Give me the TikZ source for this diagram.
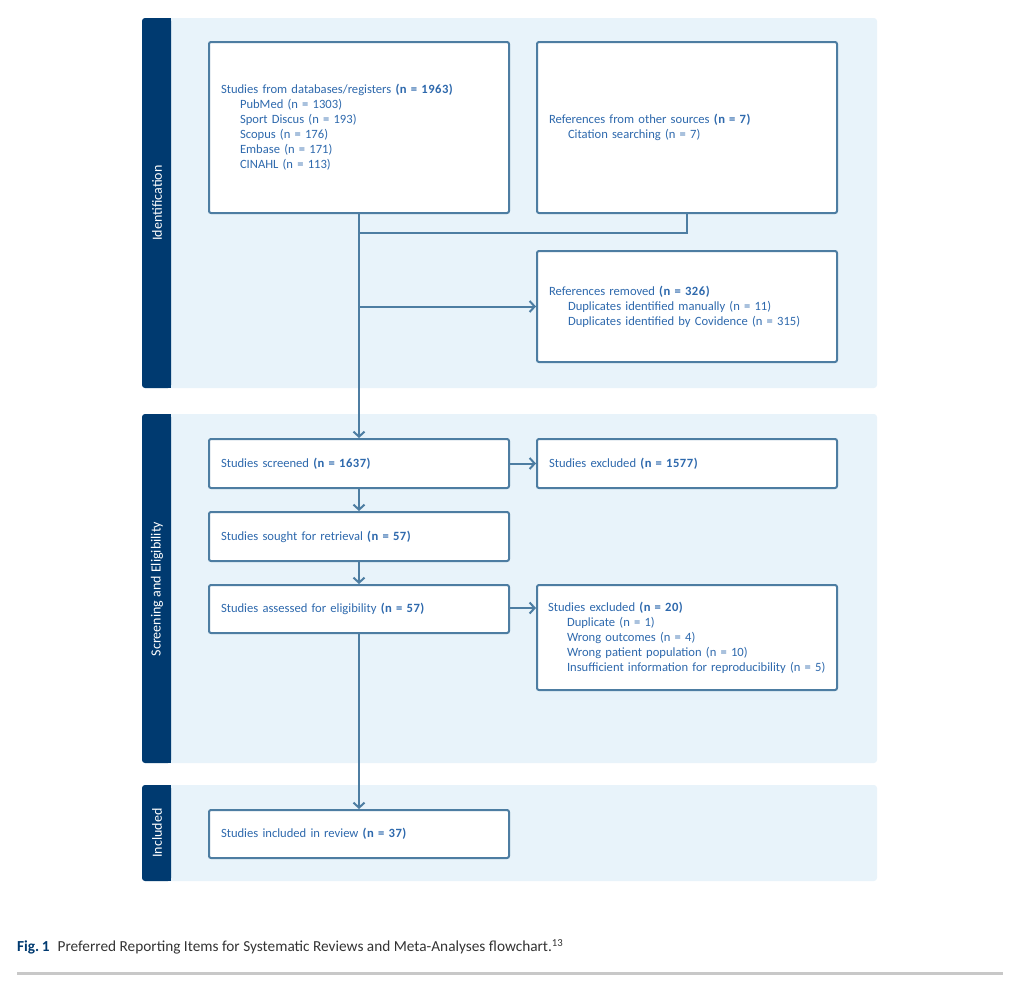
\documentclass[tikz,border=0pt]{standalone}
\usepackage{fontspec}
\setmainfont{Carlito}
\usetikzlibrary{arrows.meta,calc}
\definecolor{bandbg}{HTML}{E8F3FA}
\definecolor{bardark}{HTML}{003A70}
\definecolor{boxline}{HTML}{4D7DA2}
\definecolor{txtblue}{HTML}{2E69AD}
\definecolor{capgray}{HTML}{333333}
\definecolor{rulegray}{HTML}{C8C8C8}
\newcommand{\bn}[1]{\textbf{\addfontfeature{LetterSpace=4}#1}}
\newcommand{\ind}{\hspace*{19pt}}
\begin{document}
\begin{tikzpicture}[x=1pt,y=-1pt,
  fbox/.style={draw=boxline, line width=2pt, fill=white, rounded corners=2pt,
    anchor=north west, inner xsep=12pt, inner ysep=0pt, align=left,
    text=txtblue, font=\fontsize{12.6}{15}\selectfont},
  arr/.style={draw=boxline, line width=2pt, -{Straight Barb[length=5pt,width=11pt,line width=2pt]}},
  ln/.style={draw=boxline, line width=2pt},
  sidelabel/.style={text=white, rotate=90, font=\fontsize{14}{16}\selectfont}]
\useasboundingbox (0,0) rectangle (1020,991);
% bands
\foreach \ya/\yb in {18/388, 414/763, 785/881}{
  \fill[bandbg, rounded corners=3pt] (142,\ya) rectangle (877,\yb);
  \fill[bardark, rounded corners=3pt] (142,\ya) rectangle (171,\yb);
  \fill[bardark] (160,\ya) rectangle (171,\yb);
}
\node[sidelabel] (lid) at (157,203) {Identification};
\node[sidelabel] (lsc) at (157,589) {Screening and Eligibility};
\node[sidelabel] (lin) at (157,833) {Included};
% boxes
\node[fbox, minimum width=300pt, minimum height=171pt, text width=276pt] (db) at (208,41)
 {Studies from databases/registers \bn{(n = 1963)}\\
  \ind PubMed (n = 1303)\\
  \ind Sport Discus (n = 193)\\
  \ind Scopus (n = 176)\\
  \ind Embase (n = 171)\\
  \ind CINAHL (n = 113)};
\node[fbox, minimum width=300pt, minimum height=171pt, text width=276pt] (oth) at (536,41)
 {References from other sources \bn{(n = 7)}\\
  \ind Citation searching (n = 7)};
\node[fbox, minimum width=300pt, minimum height=111pt, text width=276pt] (rem) at (536,250)
 {References removed \bn{(n = 326)}\\
  \ind Duplicates identified manually (n = 11)\\
  \ind Duplicates identified by Covidence (n = 315)};
\node[fbox, minimum width=300pt, minimum height=49pt, text width=276pt] (scr) at (208,438)
 {Studies screened \bn{(n = 1637)}};
\node[fbox, minimum width=300pt, minimum height=49pt, text width=276pt] (ex1) at (536,438)
 {Studies excluded \bn{(n = 1577)}};
\node[fbox, minimum width=300pt, minimum height=49pt, text width=276pt] (sou) at (208,511)
 {Studies sought for retrieval \bn{(n = 57)}};
\node[fbox, minimum width=300pt, minimum height=48pt, text width=276pt] (ass) at (208,584)
 {Studies assessed for eligibility \bn{(n = 57)}};
\node[fbox, minimum width=300pt, minimum height=105pt, text width=278pt, inner xsep=11pt] (ex2) at (536,584)
 {Studies excluded \bn{(n = 20)}\\
  \ind Duplicate (n = 1)\\
  \ind Wrong outcomes (n = 4)\\
  \ind Wrong patient population (n = 10)\\
  \ind Insufficient information for reproducibility (n = 5)};
\node[fbox, minimum width=300pt, minimum height=48pt, text width=276pt] (inc) at (208,809)
 {Studies included in review \bn{(n = 37)}};
% connectors
\coordinate (j) at ($(db.south)+(0,19)$);
\draw[ln] (oth.south) |- (j);
\draw[arr] (db.south) -- (db.south |- scr.north);
\draw[arr] (db.south |- rem.west) -- (rem.west);
\draw[arr] (scr.east |- ex1.west) -- (ex1.west);
\draw[arr] (scr.south) -- (sou.north);
\draw[arr] (sou.south) -- (ass.north);
\draw[arr] (ass.east |- 0,608) -- (ex2.west |- 0,608);
\draw[arr] (ass.south) -- (ass.south |- inc.north);
% caption
\node[anchor=west, inner sep=0pt, font=\fontsize{15.3}{17}\selectfont, text=capgray] (cap) at (17,947)
 {\textcolor{bardark}{\textbf{Fig.\,1}}\hspace{8pt}Preferred Reporting Items for Systematic Reviews and Meta-Analyses flowchart.\textsuperscript{13}};
\fill[rulegray] (17,972) rectangle (1003,975);
\end{tikzpicture}
\end{document}
